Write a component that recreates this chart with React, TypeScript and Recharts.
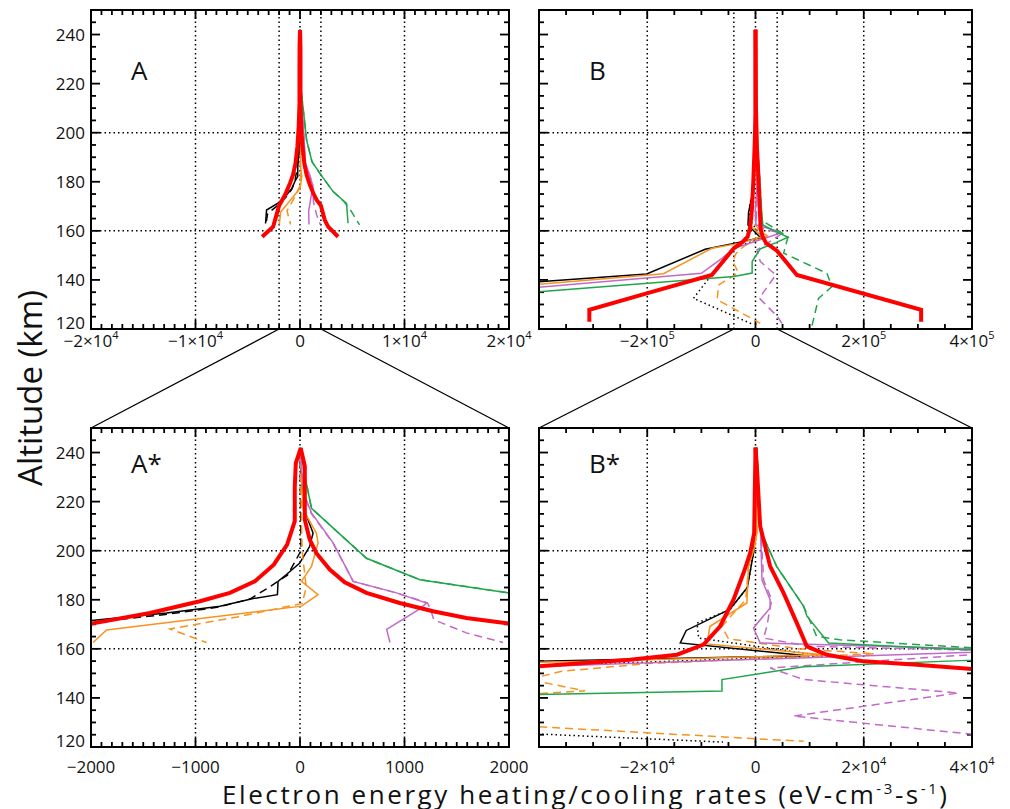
import React from 'react';
import { LineChart, Line, XAxis, YAxis, ReferenceLine } from 'recharts';

// profiles are [altitude km, rate eV cm^-3 s^-1]
// case A (panels A and A*)
const aBlack = [[242,0],[230,10],[216,46],[207.2,125],[201.8,93],[195,-2],[190.3,-130],[187.5,-210],[182.1,-216],[180.5,-448],[177.4,-766],[174.6,-1277],[171.6,-1994],[168.5,-3200],[163,-3300]];
const aBlackDash = [[242,0],[200,10],[190,-120],[185,-300],[180.3,-480],[177,-780],[174,-1290],[170.8,-2000],[167,-3100],[163,-3250]];
const aOrange = [[242,0],[216.7,30],[207.2,157],[203.2,173],[193.6,110],[187.5,14],[182.1,173],[177.4,14],[167.7,-1851],[162.6,-1980]];
const aOrangeDash = [[242,0],[200,20],[185,60],[178.5,20],[173,-600],[168.1,-1244],[162.6,-894]];
const aPurple = [[242,0],[230,20],[222.2,46],[215.4,110],[203.2,317],[187.5,509],[182.8,923],[178.7,1210],[176.3,1147],[167.9,829],[162.6,861]];
const aPurpleDash = [[242,0],[222,46],[215,110],[203,317],[187.5,509],[182.8,923],[178.7,1220],[176,1250],[171.9,1280],[166.5,1592],[162.6,1943]];
const aGreen = [[242,14],[230.6,46],[217.3,110],[196.9,636],[188.2,1147],[182.8,2000],[176,3170],[171.2,4450],[163.1,4600]];
const aGreenDash = [[242,14],[230.6,46],[217.3,110],[196.9,636],[188.2,1147],[182.8,2000],[176,3170],[172,4200],[168,4900],[162.4,5700]];
const aRedCool = [[241.8,7],[235.7,-40],[226,-50],[212,-50],[202.5,-123],[194.3,-251],[187.5,-432],[182.8,-671],[179.4,-958],[174.6,-1436],[170.3,-1994],[165,-2350],[161.7,-2570],[157.6,-3620]];
const aRedHeat = [[241.8,7],[234.4,46],[212.6,46],[204.5,93],[199,157],[192.3,285],[187.1,428],[182.8,636],[178.7,954],[175.3,1273],[172.6,1592],[170.3,2000],[164.4,2370],[161.7,2690],[157.6,3646]];

// case B (panels B and B*)
const bBlack = [[242,0],[200,-300],[185,-1500],[176.2,-4700],[167.5,-12800],[162.4,-13900],[157.2,9500],[154.9,-40000],[152.5,-93000],[142.4,-201000],[139.3,-400000]];
const bBlackDot = [[242,0],[200,-300],[185,-1500],[176,-4700],[170.5,-10800],[164.4,-10500],[157.1,12600],[153.1,-40000],[141.3,-83800],[132.5,-114600],[122,-6000]];
const bOrange = [[242,0],[207.2,250],[201,-250],[193.6,-1300],[178.7,-1600],[169.2,-8400],[162,-9000],[157.6,12600],[155,-28000],[152.9,-80600],[142.5,-170000],[138.2,-400000]];
const bOrangeDash = [[242,0],[207,250],[201,-250],[193.6,-1300],[180,-1800],[175.9,-3500],[169.1,-6200],[164.1,-5000],[160,8000],[158,22000],[154,-20000],[150.8,-36000],[147.5,-42000],[142.9,-31500],[138,-68000],[132,-71000],[122.3,8900]];
const bPurple = [[242,0],[214,860],[188,1200],[180,2700],[176.7,2700],[168.5,-370],[162.4,860],[160,40000],[159,45000],[152.8,-40000],[148.8,-62000],[142.7,-100000],[137,-400000]];
const bPurpleDash = [[242,0],[214,860],[188,1500],[180,3000],[176.7,2700],[169.2,2100],[164.4,1500],[161,10000],[159.5,40000],[158.8,48000],[152.2,2700],[147.5,8900],[142,37500],[132.6,7000],[125.2,40000],[122.3,48800]];
const bGreen = [[242,250],[208.6,860],[193.6,3900],[177.3,8900],[173.3,9500],[162.4,13500],[160,35000],[157.4,60000],[155.2,38000],[152.7,8900],[147.5,-6200],[142.8,-6200],[141.4,-40000],[135.2,-400000]];
const bGreenDash = [[242,250],[208.6,860],[193.6,3900],[177.3,8900],[165.1,11300],[163.7,15600],[160.4,40000],[157.5,60000],[150.9,52000],[142.7,132000],[137.2,141000],[132.5,116500],[121,104000]];
const bRedCool = [[242,0],[207.2,-246],[199,-986],[190.9,-2219],[180,-4068],[169.2,-6533],[161.7,-9614],[157.6,-14500],[155.6,-23200],[152.9,-40000],[142,-80700],[134.5,-201000],[127.8,-307000],[123,-307000]];
const bRedHeat = [[242,0],[234.4,246],[210,863],[193.6,2712],[182.8,5177],[170.5,7642],[161,9491],[157.6,13200],[154.9,20000],[153.6,29200],[151.8,40000],[142,76400],[127.8,306000],[123,306000]];

const altGrid = [160, 200];

const BLACK = '#000000';
const ORANGE = '#f7931e';
const PURPLE = '#c26ac8';
const GREEN = '#1fa64a';
const RED = '#ff0000';
const DASH = '8 5';
const DOT = '1.5 3';
const FONT = '"Open Sans", "Liberation Sans", sans-serif';

const pts = (arr: number[][]) => arr.map(([alt, v]) => ({ alt, v }));

const caseA = [
  { d: aBlackDash, c: BLACK, w: 1.5, dash: DASH },
  { d: aBlack, c: BLACK, w: 1.5 },
  { d: aOrangeDash, c: ORANGE, w: 1.5, dash: DASH },
  { d: aOrange, c: ORANGE, w: 1.5 },
  { d: aPurpleDash, c: PURPLE, w: 1.5, dash: DASH },
  { d: aPurple, c: PURPLE, w: 1.5 },
  { d: aGreenDash, c: GREEN, w: 1.5, dash: DASH },
  { d: aGreen, c: GREEN, w: 1.5 },
  { d: aRedCool, c: RED, w: 4 },
  { d: aRedHeat, c: RED, w: 4 },
];

const caseB = [
  { d: bBlackDot, c: BLACK, w: 1.5, dash: DOT },
  { d: bBlack, c: BLACK, w: 1.5 },
  { d: bOrangeDash, c: ORANGE, w: 1.5, dash: DASH },
  { d: bOrange, c: ORANGE, w: 1.5 },
  { d: bPurpleDash, c: PURPLE, w: 1.5, dash: DASH },
  { d: bPurple, c: PURPLE, w: 1.5 },
  { d: bGreenDash, c: GREEN, w: 1.5, dash: DASH },
  { d: bGreen, c: GREEN, w: 1.5 },
  { d: bRedCool, c: RED, w: 4 },
  { d: bRedHeat, c: RED, w: 4 },
];

// plot boxes
const COL = [{ x0: 91, x1: 509 }, { x0: 539, x1: 972 }];
const ROW = [{ y0: 10, y1: 329 }, { y0: 428, y1: 747 }];
const ALT: [number, number] = [120, 250];

const range = (a: number, b: number, s: number) => {
  const out: number[] = [];
  for (let i = 0; a + i * s <= b + s * 1e-6; i++) out.push(+(a + i * s).toFixed(6));
  return out;
};
const isMajor = (v: number, step: number) => Math.abs(v / step - Math.round(v / step)) < 1e-6;

const minus = (s: string) => s.replace('-', '\u2212');

function labelParts(v: number, exp: number) {
  if (v === 0) return <tspan>0</tspan>;
  if (exp === 0) return <tspan>{minus(String(v))}</tspan>;
  const m = v / Math.pow(10, exp);
  return (
    <>
      <tspan>{minus(String(m)) + '\u00d710'}</tspan>
      <tspan dy={-8} fontSize={11}>{exp}</tspan>
    </>
  );
}

type PanelProps = {
  col: number;
  row: number;
  domain: [number, number];
  major: number;
  minor: number;
  exp: number;
  grid: number[];
  series: typeof caseA;
  yLabels: boolean;
  skipFirst: boolean;
};

const MAJ = 9;
const MIN = 5;

function Panel({ col, row, domain, major, minor, exp, grid, series, yLabels, skipFirst }: PanelProps) {
  const c = COL[col];
  const r = ROW[row];
  const yW = col === 0 ? 91 : 19;
  const left = c.x0 - yW;
  const rightM = col === 0 ? 31 : 38;
  const width = yW + (c.x1 - c.x0) + rightM;
  const topM = row === 0 ? 10 : 28;
  const xH = row === 0 ? 31 : 40;
  const height = topM + (r.y1 - r.y0) + xH;
  const top = r.y0 - topM;
  const labelDy = row === 0 ? 17.5 : 25.5;
  const kmPerPx = (ALT[1] - ALT[0]) / (r.y1 - r.y0);
  const valPerPx = (domain[1] - domain[0]) / (c.x1 - c.x0);
  const xLabels = range(domain[0], domain[1], major);
  const yLabelTicks = range(ALT[0], 240, 20);

  // inward tick marks on all four sides, as short reference segments
  const segs: { x: number; y: number }[][] = [];
  range(domain[0], domain[1], minor).forEach((v) => {
    const L = (isMajor(v, major) ? MAJ : MIN) * kmPerPx;
    segs.push([{ x: v, y: ALT[0] }, { x: v, y: ALT[0] + L }]);
    segs.push([{ x: v, y: ALT[1] }, { x: v, y: ALT[1] - L }]);
  });
  range(ALT[0], ALT[1], 5).forEach((v) => {
    const L = (isMajor(v, 20) ? MAJ : MIN) * valPerPx;
    segs.push([{ x: domain[0], y: v }, { x: domain[0] + L, y: v }]);
    segs.push([{ x: domain[1], y: v }, { x: domain[1] - L, y: v }]);
  });

  const bottomTick = (p: any) => {
    const v = p.payload.value;
    if (skipFirst && v === domain[0]) return <g />;
    return (
      <text x={p.x} y={p.y + labelDy} textAnchor="middle" fontSize={17} fontFamily={FONT} fill="#111">
        {labelParts(v, exp)}
      </text>
    );
  };
  const leftTick = (p: any) => {
    const v = p.payload.value;
    if (!yLabels) return <g />;
    return (
      <text x={p.x - 6} y={p.y + (v === ALT[0] ? 0 : 6)} textAnchor="end" fontSize={17} fontFamily={FONT} fill="#111">
        {v}
      </text>
    );
  };

  const axisLine = { stroke: '#000', strokeWidth: 2 };

  return (
    <div style={{ position: 'absolute', left, top }}>
      <LineChart width={width} height={height} margin={{ top: topM, right: rightM, bottom: 0, left: 0 }}>
        <XAxis
          type="number" dataKey="v" domain={domain} allowDataOverflow ticks={xLabels} interval={0}
          height={xH} tickSize={0} tickMargin={0} tickLine={false} axisLine={axisLine} tick={bottomTick}
        />
        <YAxis
          type="number" dataKey="alt" domain={ALT} allowDataOverflow ticks={yLabelTicks} interval={0}
          width={yW} tickSize={0} tickMargin={0} tickLine={false} axisLine={axisLine} tick={leftTick}
        />
        {grid.map((g) => (
          <ReferenceLine key={'x' + g} x={g} stroke="#000" strokeWidth={1.5} strokeDasharray={DOT} />
        ))}
        {altGrid.map((g) => (
          <ReferenceLine key={'y' + g} y={g} stroke="#000" strokeWidth={1.5} strokeDasharray={DOT} />
        ))}
        {segs.map((s, i) => (
          <ReferenceLine key={'t' + i} segment={s} stroke="#000" strokeWidth={1.8} ifOverflow="visible" />
        ))}
        {series.map((s, i) => (
          <Line
            key={i} data={pts(s.d)} dataKey="alt" type="linear" stroke={s.c} strokeWidth={s.w}
            strokeDasharray={s.dash} dot={false} activeDot={false} isAnimationActive={false}
          />
        ))}
      </LineChart>
    </div>
  );
}

// zoom windows shown in the lower panels
const zoomA: [number, number] = [-2000, 2000];
const zoomB: [number, number] = [-40000, 40000];
const domA: [number, number] = [-20000, 20000];
const domB: [number, number] = [-400000, 400000];

const panels = [
  { col: 0, row: 0, domain: domA, major: 10000, minor: 1000, exp: 4, grid: [-10000, 0, 10000, zoomA[0], zoomA[1]], series: caseA, yLabels: true, skipFirst: false },
  { col: 1, row: 0, domain: domB, major: 200000, minor: 50000, exp: 5, grid: [-200000, 0, 200000, zoomB[0], zoomB[1]], series: caseB, yLabels: false, skipFirst: true },
  { col: 0, row: 1, domain: zoomA, major: 1000, minor: 100, exp: 0, grid: [-1000, 0, 1000], series: caseA, yLabels: true, skipFirst: false },
  { col: 1, row: 1, domain: zoomB, major: 20000, minor: 5000, exp: 4, grid: [-20000, 0, 20000], series: caseB, yLabels: false, skipFirst: true },
];

const lin = (v: number, d: [number, number], p0: number, p1: number) => p0 + ((v - d[0]) / (d[1] - d[0])) * (p1 - p0);

export default function App() {
  const conn = [
    [lin(zoomA[0], domA, COL[0].x0, COL[0].x1), COL[0].x0],
    [lin(zoomA[1], domA, COL[0].x0, COL[0].x1), COL[0].x1],
    [lin(zoomB[0], domB, COL[1].x0, COL[1].x1), COL[1].x0],
    [lin(zoomB[1], domB, COL[1].x0, COL[1].x1), COL[1].x1],
  ];
  return (
    <div style={{ position: 'absolute', left: 0, top: 0, width: 1010, height: 809, background: '#fff' }}>
      {panels.map((p, i) => (
        <Panel key={i} col={p.col} row={p.row} domain={p.domain} major={p.major} minor={p.minor} exp={p.exp}
          grid={p.grid} series={p.series} yLabels={p.yLabels} skipFirst={p.skipFirst} />
      ))}
      <svg width={1010} height={809} style={{ position: 'absolute', left: 0, top: 0, pointerEvents: 'none' }}>
        {panels.map((p, i) => {
          const c = COL[p.col];
          const r = ROW[p.row];
          return (
            <rect key={'f' + i} x={c.x0} y={r.y0} width={c.x1 - c.x0} height={r.y1 - r.y0} fill="none" stroke="#000" strokeWidth={2} />
          );
        })}
        {conn.map(([xa, xb], i) => (
          <line key={i} x1={xa} y1={ROW[0].y1} x2={xb} y2={ROW[1].y0} stroke="#000" strokeWidth={1.3} />
        ))}
        <g fontFamily={FONT} fill="#111">
          <text x={131} y={80} fontSize={26}>A</text>
          <text x={589} y={80} fontSize={26}>B</text>
          <text x={131} y={473} fontSize={26}>A*</text>
          <text x={589} y={473} fontSize={26}>B*</text>
          <text x={0} y={0} fontSize={33} textAnchor="middle" transform="translate(42,388) rotate(-90)">
            Altitude (km)
          </text>
          <text x={222} y={804} fontSize={26} textLength={725} lengthAdjust="spacing">
            Electron energy heating/cooling rates (eV-cm
            <tspan dy={-10} fontSize={15}>-3</tspan>
            <tspan dy={10}>-s</tspan>
            <tspan dy={-10} fontSize={15}>-1</tspan>
            <tspan dy={10}>)</tspan>
          </text>
        </g>
      </svg>
    </div>
  );
}
